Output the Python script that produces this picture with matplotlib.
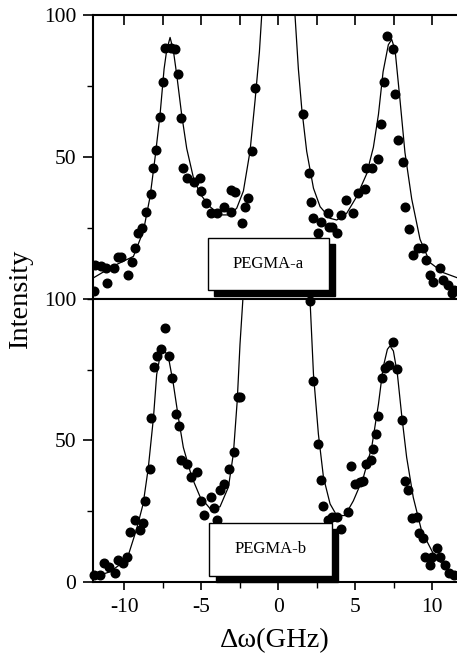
import matplotlib
matplotlib.use("Agg")
import matplotlib.pyplot as plt
from matplotlib.patches import Rectangle
from matplotlib.ticker import MultipleLocator

plt.rcParams["font.family"] = ["Liberation Serif", "DejaVu Serif"]
plt.rcParams["axes.unicode_minus"] = False

# PEGMA-a : measured points
a_x = [-11.95, -11.9, -11.5, -11.2, -11.14, -10.7, -10.4, -10.2, -9.74, -9.52, -9.3, -9.09, -8.87,
       -8.6, -8.28, -8.15, -7.96, -7.68, -7.46, -7.35, -7.0, -6.7, -6.5, -6.35, -6.17,
       -5.9, -5.5, -5.1, -5.0, -4.7, -4.4, -4.0, -3.5, -3.1, -3.1, -2.8, -2.37, -2.15,
       -1.94, -1.73, -1.51,
       1.62, 2.0, 2.1, 2.27, 2.6, 2.8, 3.2, 3.3, 3.5, 3.8, 4.1, 4.4, 4.87, 5.2, 5.6,
       5.7, 6.1, 6.5, 6.65, 6.86, 7.08, 7.43, 7.58, 7.8, 8.07, 8.2, 8.5, 8.76, 9.1,
       9.4, 9.6, 9.85, 10.07, 10.5, 10.7, 11.0, 11.25, 11.4]
a_y = [2.9, 11.8, 11.6, 10.9, 5.5, 10.9, 14.9, 14.9, 8.4, 13.1, 18.0, 23.2, 25.0,
       30.7, 37.0, 46.0, 52.5, 64.0, 76.5, 88.3, 88.3, 88.0, 79.2, 63.7, 46.0,
       42.5, 41.3, 42.5, 38.0, 33.9, 30.2, 30.2, 32.5, 30.7, 38.4, 37.8, 26.7, 32.5,
       35.5, 52.2, 74.2,
       65.1, 44.3, 34.3, 28.4, 23.1, 27.2, 30.2, 25.5, 25.5, 23.1, 29.6, 34.9, 30.2, 37.2, 38.6,
       46.0, 46.0, 49.2, 61.6, 76.5, 92.6, 87.9, 72.2, 56.0, 48.3, 32.5, 24.5, 15.5, 17.8,
       17.8, 13.7, 8.5, 6.1, 10.8, 6.7, 4.9, 2.0, 3.2]

# PEGMA-a : fitted curve
a_fit_x = [-12.05, -10.71, -9.41, -8.76, -8.33, -8.0, -7.68, -7.42, -7.25, -7.03,
           -6.82, -6.6, -6.28, -5.95, -5.52, -5.08, -4.44, -3.79, -3.14, -2.7, -2.27,
           -1.84, -1.51, -1.23, -1.08, -1.0, 0.0, 1.0, 1.08, 1.3, 1.52, 1.84, 2.28, 2.71,
           3.36, 3.79, 4.44, 5.08, 5.73, 6.17, 6.5, 6.8, 7.14, 7.36, 7.58, 7.9, 8.22, 8.66,
           9.2, 9.85, 10.7, 11.6]
a_fit_y = [7.3, 11.6, 15.0, 24.0, 36.0, 50.0, 65.0, 81.0, 87.6, 92.1,
           87.6, 79.0, 65.0, 53.0, 42.8, 37.0, 32.5, 29.6, 29.6, 32.0, 38.0,
           52.0, 70.0, 87.0, 100.0, 115.0, 400.0, 115.0, 100.0, 81.0, 67.0, 52.0, 39.0, 32.5,
           28.4, 27.8, 30.2, 36.0, 44.0, 53.4, 65.0, 80.0, 89.5, 91.4, 87.6, 70.0, 51.6, 35.2,
           21.0, 12.8, 9.3, 7.5]

# PEGMA-b : measured points
b_x = [-11.95, -11.6, -11.3, -11.0, -10.6, -10.4, -10.1, -9.8, -9.63, -9.3, -8.98, -8.78,
       -8.67, -8.35, -8.24, -8.09, -7.9, -7.6, -7.35, -7.07, -6.9, -6.65, -6.45, -6.3,
       -5.9, -5.7, -5.3, -5.0, -4.8, -4.4, -4.2, -4.0, -3.8, -3.5, -3.18, -2.88, -2.65, -2.5,
       2.06, 2.27, 2.6, 2.75, 2.9, 3.2, 3.5, 3.8, 4.1, 4.5, 4.7, 4.95, 5.3, 5.5, 5.7, 6.0,
       6.15, 6.35, 6.5, 6.7, 6.9, 7.2, 7.47, 7.7, 8.05, 8.2, 8.45, 8.67, 8.98, 9.15, 9.4,
       9.55, 9.95, 9.85, 10.3, 10.5, 10.85, 11.05, 11.4]
b_y = [2.4, 2.4, 6.5, 5.3, 3.0, 7.7, 6.5, 8.8, 17.6, 21.8, 18.2, 20.6,
       28.6, 40.0, 58.0, 76.1, 80.0, 82.4, 89.8, 79.8, 72.1, 59.2, 55.0, 43.0,
       41.8, 37.1, 38.8, 28.6, 23.5, 30.0, 25.9, 21.8, 32.6, 34.5, 40.0, 45.9, 65.5, 65.5,
       99.4, 71.0, 48.8, 36.1, 26.7, 21.8, 22.9, 22.9, 18.8, 24.7, 40.8, 34.7, 35.3, 35.6, 41.8, 43.0,
       47.1, 52.1, 58.5, 72.1, 75.5, 76.5, 84.7, 75.3, 57.1, 35.6, 32.4, 22.4, 22.9, 17.1, 15.3,
       8.8, 8.8, 5.9, 11.8, 8.8, 5.9, 3.0, 2.4]

# PEGMA-b : fitted curve
b_fit_x = [-12.05, -10.93, -10.3, -9.74, -9.2, -8.78, -8.45, -8.11, -7.9, -7.64, -7.42, -7.14,
           -6.82, -6.49, -6.17, -5.62, -5.08, -4.44, -3.79, -3.24, -2.92, -2.67, -2.49, -2.31,
           -2.2, 0.0, 1.95, 2.06, 2.28, 2.6, 2.93, 3.36, 3.79, 4.33, 4.87, 5.52, 6.06, 6.5,
           6.8, 7.08, 7.25, 7.47, 7.73, 8.0, 8.33, 8.76, 9.3, 10.07, 10.93, 11.6]
b_fit_y = [1.5, 3.5, 6.0, 9.4, 18.7, 27.5, 40.0, 58.0, 73.3, 81.0, 82.0, 79.5,
           70.0, 58.0, 47.5, 37.0, 30.0, 25.9, 26.5, 33.5, 45.3, 64.0, 84.0, 99.3,
           115.0, 400.0, 115.0, 99.3, 73.4, 52.2, 36.9, 27.5, 23.4, 23.4, 28.6, 36.9, 47.5, 62.8,
           75.7, 82.2, 83.4, 81.6, 73.4, 59.3, 44.0, 29.8, 18.0, 9.8, 4.5, 2.2]

fig = plt.figure(figsize=(4.57, 6.61), dpi=100)
ax1 = fig.add_axes([0.203, 0.5477, 0.797, 0.4296])
ax2 = fig.add_axes([0.203, 0.12, 0.797, 0.4277])

for ax in (ax1, ax2):
    ax.set_xlim(-12.05, 11.6)
    ax.set_ylim(0, 100)
    ax.spines["right"].set_visible(False)
    for s in ("left", "top", "bottom"):
        ax.spines[s].set_linewidth(1.5)
    ax.xaxis.set_major_locator(MultipleLocator(5))
    ax.xaxis.set_minor_locator(MultipleLocator(2.5))
    ax.yaxis.set_major_locator(MultipleLocator(50))
    ax.yaxis.set_minor_locator(MultipleLocator(25))
    ax.tick_params(axis="y", which="major", direction="out", length=7, width=1.2,
                   labelsize=15.5, pad=5)
    ax.tick_params(axis="y", which="minor", direction="out", length=4, width=1.0)

ax1.plot(a_fit_x, a_fit_y, color="black", lw=0.9, zorder=2)
ax1.plot(a_x, a_y, "o", color="black", ms=6.2, zorder=3)
ax1.tick_params(axis="x", which="both", top=True, bottom=False, labelbottom=False,
                direction="in", length=7, width=1.2)
ax1.set_yticks([50, 100])
ax1.set_yticks([0, 25, 75], minor=True)

ax2.plot(b_fit_x, b_fit_y, color="black", lw=0.9, zorder=2)
ax2.plot(b_x, b_y, "o", color="black", ms=6.2, zorder=3, clip_on=False)
ax2.tick_params(axis="x", which="major", direction="out", length=6, width=1.2,
                labelsize=15.5, pad=6)
ax2.tick_params(axis="x", which="minor", direction="out", length=4, width=1.0)
ax2.set_xticks([-10, -5, 0, 5, 10])
ax2.set_xlabel("Δω(GHz)", fontsize=20.5, labelpad=8)

# labelled boxes with drop shadow
boxes = [(ax1, -4.58, 3.2, 7.89, 18.2, "PEGMA-a"), (ax2, -4.48, 2.1, 7.98, 18.7, "PEGMA-b")]
for ax, bx, by, bw, bh, txt in boxes:
    ax.add_patch(Rectangle((bx + 0.4, by - 2.1), bw, bh, facecolor="black",
                           edgecolor="black", zorder=5, clip_on=False))
    ax.add_patch(Rectangle((bx, by), bw, bh, facecolor="white", edgecolor="black",
                           lw=1.0, zorder=6))
    ax.text(bx + bw / 2, by + bh / 2, txt, ha="center", va="center", fontsize=12, zorder=7)

fig.text(0.045, 0.547, "Intensity", rotation=90, ha="center", va="center", fontsize=20.5)

fig.savefig("out.png", dpi=100)
